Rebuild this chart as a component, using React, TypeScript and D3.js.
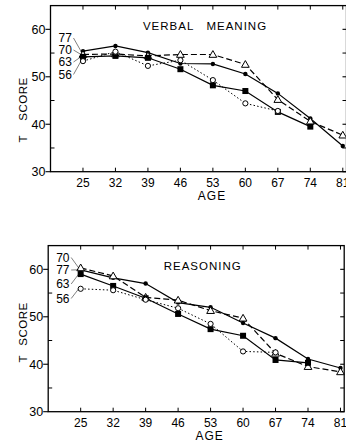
import React from "react";
import * as d3 from "d3";

// ages on the x axis
const ages = [25, 32, 39, 46, 53, 60, 67, 74, 81];
const yTicks = [30, 40, 50, 60];
const cohorts = ["77", "70", "63", "56"];

// VERBAL MEANING
const verbal77 = [55.4, 56.5, 55.1, 52.8, 52.7, 50.6, 46.5, 41.2, 35.4];
const verbal70 = [54.7, 54.8, 54.4, 54.7, 54.7, 52.6, 45.2, 40.6, 37.7];
const verbal63 = [54.2, 54.4, 54.0, 51.6, 48.2, 47.0, 42.6, 39.5];
const verbal56 = [53.3, 55.3, 52.3, 53.5, 49.3, 44.4, 42.8];

// REASONING
const reason77 = [59.9, 58.2, 57.0, 53.0, 52.0, 48.7, 45.5, 41.1, 39.2];
const reason70 = [60.3, 58.6, 54.1, 53.5, 51.3, 49.7, 42.3, 39.5, 38.4];
const reason63 = [59.0, 56.5, 53.9, 50.6, 47.4, 46.0, 40.9, 40.3];
const reason56 = [55.9, 55.6, 53.6, 51.8, 48.5, 42.7, 42.5];

const FONT = "'Liberation Sans', Arial, sans-serif";

type Panel = {
  title: string;
  top: number;
  xOff: number;
  series: number[][];
  labelY: number[];
  scoreY: number;
  tY: number;
};

const panels: Panel[] = [
  {
    title: "VERBAL   MEANING", top: 0, xOff: 0,
    series: [verbal77, verbal70, verbal63, verbal56],
    labelY: [38, 50, 62, 74.5], scoreY: 99, tY: 139,
  },
  {
    title: "REASONING", top: 240, xOff: -2.3,
    series: [reason77, reason70, reason63, reason56],
    labelY: [270, 257.5, 284, 298.5], scoreY: 324, tY: 359,
  },
];

const styles = [
  { dash: null, marker: "dot" },
  { dash: "6,3", marker: "tri" },
  { dash: null, marker: "sq" },
  { dash: "1.5,2.2", marker: "circ" },
];

function ChartPanel({ p }: { p: Panel }) {
  const x = d3.scaleLinear().domain([18, 81.8]).range([50.5 + p.xOff, 346.5 + p.xOff]);
  const y = d3.scaleLinear().domain([30, 65]).range([171.7 + p.top, 5.6 + p.top]);
  const [x0, x1] = x.range();
  const [yb, yt] = y.range();

  const line = d3
    .line<number>()
    .x((_, i) => x(ages[i]))
    .y((d) => y(d));

  const tri = d3.symbol().type(d3.symbolTriangle).size(26)();

  const marker = (kind: string, cx: number, cy: number, key: string) => {
    if (kind === "dot") return <circle key={key} cx={cx} cy={cy} r={2.2} fill="#000" />;
    if (kind === "sq") return <rect key={key} x={cx - 3} y={cy - 3} width={6} height={6} fill="#000" />;
    if (kind === "circ") return <circle key={key} cx={cx} cy={cy} r={2.6} fill="#fff" stroke="#000" strokeWidth={1} />;
    return <path key={key} d={tri!} transform={`translate(${cx},${cy + 0.6})`} fill="#fff" stroke="#000" strokeWidth={1} />;
  };

  return (
    <g>
      {/* frame */}
      <rect x={x0} y={yt} width={x1 - x0} height={yb - yt} fill="none" stroke="#000" strokeWidth={1.3} />
      {ages.map((a) => (
        <g key={"xt" + a}>
          <line x1={x(a)} x2={x(a)} y1={yb} y2={yb - 4} stroke="#000" strokeWidth={1} />
          <line x1={x(a)} x2={x(a)} y1={yt} y2={yt + 4} stroke="#000" strokeWidth={1} />
          <text x={x(a)} y={yb + 15} textAnchor="middle" fontSize={12} fontFamily={FONT}>
            {a}
          </text>
        </g>
      ))}
      {yTicks.map((v) => (
        <g key={"yt" + v}>
          <line x1={x0 - 5} x2={x0} y1={y(v)} y2={y(v)} stroke="#000" strokeWidth={1.1} />
          <line x1={x1 - 4} x2={x1} y1={y(v)} y2={y(v)} stroke="#000" strokeWidth={1.1} />
          <text x={x0 - 5} y={y(v) + 4.5} textAnchor="end" fontSize={12.5} fontFamily={FONT}>
            {v}
          </text>
        </g>
      ))}
      {[35, 45, 55].map((v) => (
        <g key={"ym" + v}>
          <line x1={x0} x2={x0 + 4} y1={y(v)} y2={y(v)} stroke="#000" strokeWidth={1} />
          <line x1={x1 - 4} x2={x1} y1={y(v)} y2={y(v)} stroke="#000" strokeWidth={1} />
        </g>
      ))}
      <text x={212 + p.xOff} y={yb + 28} textAnchor="middle" fontSize={12} fontFamily={FONT} letterSpacing={1}>
        AGE
      </text>
      <text
        transform={`translate(27,${p.scoreY + p.top * 0}) rotate(-90)`}
        textAnchor="middle"
        fontSize={11.5}
        fontFamily={FONT}
        letterSpacing={0.5}
      >
        SCORE
      </text>
      <text
        transform={`translate(27,${p.tY}) rotate(-90)`}
        textAnchor="middle"
        fontSize={11.5}
        fontFamily={FONT}
      >
        T
      </text>
      <text
        x={205 + p.xOff}
        y={yt + 24}
        textAnchor="middle"
        fontSize={11.5}
        fontFamily={FONT}
        letterSpacing={1}
        style={{ whiteSpace: "pre" }}
      >
        {p.title}
      </text>

      {/* series */}
      {p.series.map((s, si) => (
        <path
          key={"l" + si}
          d={line(s) ?? ""}
          fill="none"
          stroke="#000"
          strokeWidth={si === 3 ? 1 : 1.2}
          strokeDasharray={styles[si].dash ?? undefined}
        />
      ))}
      {p.series.map((s, si) => s.map((v, i) => marker(styles[si].marker, x(ages[i]), y(v), `m${si}-${i}`)))}

      {/* cohort labels with leaders */}
      {cohorts.map((c, ci) => {
        const ly = p.labelY[ci];
        const tx = x0 + 8;
        const px = x(25) - 2;
        const py = y(p.series[ci][0]);
        return (
          <g key={"c" + c}>
            <text x={tx} y={ly + 4.3} fontSize={12} fontFamily={FONT}>
              {c}
            </text>
            <line x1={tx + 15} y1={ly} x2={px} y2={py} stroke="#000" strokeWidth={0.5} />
          </g>
        );
      })}
    </g>
  );
}

export default function App() {
  return (
    <svg
      width={346}
      height={444}
      style={{ position: "absolute", left: 0, top: 0, background: "#fff" }}
    >
      <rect width={346} height={444} fill="#fff" />
      {panels.map((p) => (
        <ChartPanel key={p.title} p={p} />
      ))}
    </svg>
  );
}
